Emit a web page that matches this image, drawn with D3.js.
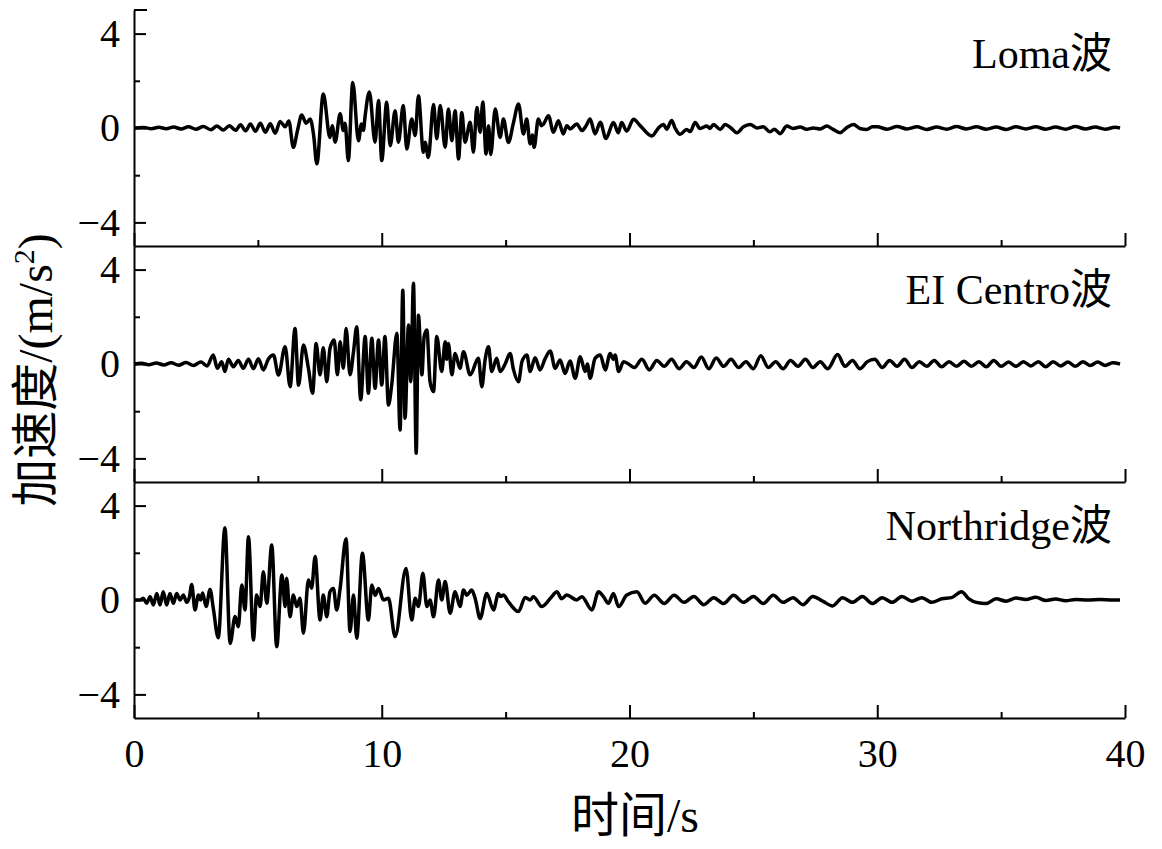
<!DOCTYPE html>
<html>
<head>
<meta charset="utf-8">
<script src="https://cdn.jsdelivr.net/npm/d3@7"></script>
<style>
  body { margin: 0; background: #fff; }
  svg text { font-family: "Liberation Serif", "Times New Roman", "Noto Sans CJK SC", serif; fill: #000; }
</style>
</head>
<body>
<div id="chart"></div>
<script>
// Tick values
const xMajorTicks = [0, 10, 20, 30, 40];
const xMinorTicks = [5, 15, 25, 35];
const yMajorTicks = [-4, 0, 4];
const yMinorTicks = [-2, 2];

// Panel names
const waveNames = ["Loma波", "EI Centro波", "Northridge波"];

// Loma wave: [time (s), acceleration (m/s2)]
const lomaWave = [
  [0,0],[0.4,0.02],[0.7,-0.03],[1.0,0.03],[1.3,-0.03],[1.6,0.04],[1.9,-0.04],[2.2,0.05],[2.5,-0.05],
  [2.8,0.06],[3.1,-0.07],[3.35,0.08],[3.6,-0.09],[3.85,0.1],[4.1,-0.1],[4.3,0.14],[4.5,-0.12],[4.7,0.17],
  [4.9,-0.14],[5.1,0.2],[5.3,-0.18],[5.5,0.18],[5.7,-0.22],[5.9,0.28],[6.1,0.05],[6.25,0.3],[6.43,-0.82],
  [6.6,-0.1],[6.77,0.55],[6.95,0.2],[7.11,0.38],[7.25,-0.3],[7.38,-1.52],[7.64,1.44],[7.91,-0.4],[8.0,0.1],
  [8.12,-0.6],[8.32,0.6],[8.45,-0.11],[8.52,0.2],[8.65,-1.38],[8.83,1.93],[9.06,-0.54],[9.18,0.17],[9.26,-0.1],
  [9.33,0.52],[9.5,1.53],[9.73,-0.6],[9.87,1.16],[10.0,-1.38],[10.2,1.09],[10.34,-0.75],[10.54,0.73],[10.67,-0.6],
  [10.87,0.95],[11.01,-0.89],[11.21,0.38],[11.35,-0.32],[11.48,1.37],[11.68,-1.03],[11.75,-0.6],[11.88,-1.25],
  [12.09,1.0],[12.22,-0.46],[12.36,0.95],[12.56,-0.82],[12.69,0.8],[12.83,-0.54],[12.96,0.73],[13.1,-1.31],
  [13.23,0.66],[13.36,-0.6],[13.57,0.24],[13.7,-1.03],[13.84,0.87],[13.97,-0.18],[14.08,1.1],[14.21,-1.1],
  [14.31,0.1],[14.4,-1.12],[14.58,0.8],[14.78,-0.4],[14.91,0.38],[15.11,-0.61],[15.32,0.24],[15.52,1.02],
  [15.72,-0.25],[15.85,0.38],[15.99,-0.68],[16.08,-0.3],[16.15,-0.82],[16.32,0.38],[16.45,0.1],[16.53,0.17],
  [16.73,0.52],[16.93,-0.18],[17.13,0.31],[17.33,-0.25],[17.47,0.1],[17.6,-0.04],[17.87,0.17],[18.08,-0.11],
  [18.25,0.1],[18.41,0.38],[18.61,-0.25],[18.82,0.24],[19.05,-0.45],[19.35,0.23],[19.55,-0.2],[19.68,0.23],
  [19.89,-0.13],[20.16,0.37],[20.43,0.1],[20.9,-0.34],[21.17,0.0],[21.37,0.15],[21.5,-0.05],[21.7,0.32],
  [21.84,0.0],[22.04,-0.27],[22.31,-0.06],[22.45,-0.15],[22.65,0.23],[22.85,-0.02],[23.12,0.08],[23.25,-0.02],
  [23.39,0.15],[23.66,-0.06],[23.86,0.15],[24.1,0.0],[24.33,-0.2],[24.6,0.05],[24.87,0.15],[25.14,0.0],
  [25.4,0.05],[25.67,-0.16],[25.85,-0.05],[26.08,-0.24],[26.35,0.08],[26.6,-0.02],[26.89,0.04],[27.15,-0.05],
  [27.42,0.0],[27.7,-0.04],[27.96,0.08],[28.2,-0.05],[28.5,-0.2],[28.75,0.0],[29.04,0.15],[29.3,-0.02],
  [29.58,-0.06],[29.8,0.05],[30.0,0.05],[30.4,-0.05],[30.8,0.06],[31.2,-0.04],[31.6,0.05],[32.0,-0.06],
  [32.4,0.04],[32.8,-0.05],[33.2,0.06],[33.6,-0.04],[34.0,0.05],[34.4,-0.05],[34.8,0.04],[35.2,-0.06],
  [35.6,0.05],[36.0,-0.04],[36.4,0.05],[36.8,-0.05],[37.2,0.04],[37.6,-0.05],[38.0,0.06],[38.4,-0.04],
  [38.8,0.04],[39.2,-0.05],[39.6,0.03],[39.8,0]
];

// EI Centro wave
const centroWave = [
  [0,0],[0.3,0.03],[0.6,-0.03],[0.9,0.04],[1.2,-0.04],[1.5,0.05],[1.8,-0.05],[2.1,0.06],[2.4,-0.06],
  [2.7,0.08],[2.95,-0.08],[3.2,0.38],[3.36,-0.18],[3.54,0.1],[3.67,-0.32],[3.81,0.2],[4.01,-0.12],[4.21,0.15],
  [4.41,-0.18],[4.62,0.2],[4.82,-0.2],[5.02,0.22],[5.22,-0.25],[5.42,0.2],[5.63,0.38],[5.83,-0.47],[6.1,0.73],
  [6.3,-0.96],[6.5,1.5],[6.64,-0.9],[6.84,0.8],[7.04,-0.18],[7.21,-1.24],[7.35,0.87],[7.51,-0.46],[7.64,0.69],
  [7.78,-0.75],[7.91,0.66],[8.08,1.02],[8.21,-0.46],[8.32,0.94],[8.45,-0.18],[8.56,1.5],[8.72,-0.46],[8.86,0.52],
  [8.99,1.58],[9.15,-1.52],[9.33,1.16],[9.46,-1.24],[9.6,1.09],[9.73,-1.03],[9.87,1.02],[10.0,-0.89],[10.13,1.16],
  [10.27,-1.74],[10.4,-0.9],[10.61,1.3],[10.74,-2.8],[10.85,3.13],[10.94,-2.3],[11.08,1.65],[11.17,-0.75],
  [11.28,3.42],[11.39,-3.78],[11.48,2.07],[11.62,-0.46],[11.71,1.16],[11.82,1.44],[11.95,-0.75],[12.09,-1.17],
  [12.22,1.16],[12.42,-0.32],[12.56,0.94],[12.62,0.2],[12.69,0.87],[12.83,-0.46],[12.96,0.45],[13.16,-0.18],
  [13.3,0.52],[13.57,-0.46],[13.9,0.24],[14.04,-0.96],[14.17,0.17],[14.31,0.73],[14.44,-0.32],[14.64,0.24],
  [14.78,-0.32],[14.98,0.0],[15.18,0.45],[15.32,-0.25],[15.52,-0.75],[15.66,0.1],[15.86,0.38],[15.99,-0.32],
  [16.19,0.27],[16.39,-0.25],[16.6,0.24],[16.8,0.55],[17.0,-0.18],[17.2,0.17],[17.4,-0.4],[17.6,0.13],
  [17.81,-0.6],[18.01,0.31],[18.21,-0.32],[18.3,0.0],[18.41,-0.6],[18.61,0.24],[18.82,0.38],[19.02,-0.25],
  [19.22,0.45],[19.35,0.2],[19.42,0.38],[19.56,-0.32],[19.76,0.1],[19.96,0.0],
  [20.2,-0.15],[20.5,0.2],[20.8,-0.25],[21.1,0.15],[21.4,-0.1],[21.7,0.2],[22.0,-0.2],[22.3,0.1],[22.6,-0.15],
  [22.9,0.3],[23.2,-0.2],[23.5,0.25],[23.8,-0.1],[24.1,0.2],[24.4,-0.15],[24.7,0.1],[25.0,-0.2],[25.3,0.35],
  [25.6,-0.15],[25.9,0.1],[26.2,-0.2],[26.5,0.15],[26.8,-0.1],[27.1,0.2],[27.4,-0.15],[27.7,0.1],[28.0,-0.2],
  [28.4,0.4],[28.7,-0.1],[29.0,0.15],[29.3,-0.2],[29.6,0.1],[29.9,0.2],[30.2,-0.15],[30.5,0.15],[30.8,-0.1],
  [31.1,0.2],[31.4,-0.15],[31.7,0.1],[32.0,-0.1],[32.3,0.15],[32.6,-0.12],[32.9,0.1],[33.2,-0.1],[33.5,0.12],
  [33.8,-0.1],[34.1,0.1],[34.4,-0.12],[34.7,0.15],[35.0,-0.1],[35.3,0.08],[35.6,-0.1],[35.9,0.1],[36.2,-0.08],
  [36.5,0.1],[36.8,-0.12],[37.1,0.1],[37.4,-0.08],[37.7,0.08],[38.0,-0.1],[38.3,0.1],[38.6,-0.06],[38.9,0.08],
  [39.2,-0.06],[39.5,0.05],[39.8,0]
];

// Northridge wave
const northWave = [
  [0,0],[0.24,0],[0.38,0.07],[0.51,-0.14],[0.65,0.14],[0.78,-0.21],[0.92,0.28],[1.05,-0.21],[1.18,0.35],
  [1.32,-0.21],[1.45,0.28],[1.59,-0.14],[1.72,0.28],[1.86,0.0],[1.99,0.21],[2.13,-0.1],[2.23,0.1],[2.33,0.66],
  [2.46,-0.42],[2.6,0.21],[2.69,0.0],[2.77,0.3],[2.91,-0.28],[3.07,0.45],[3.2,-0.35],[3.4,-1.6],[3.67,3.06],
  [3.88,-1.84],[4.08,-0.7],[4.21,-1.13],[4.35,0.64],[4.48,-0.42],[4.62,2.68],[4.82,-1.7],[4.95,0.21],[5.09,-0.28],
  [5.22,1.2],[5.36,-0.14],[5.56,2.33],[5.76,-1.98],[5.97,1.06],[6.1,-0.28],[6.16,0.92],[6.3,-0.71],[6.43,0.21],
  [6.57,-0.28],[6.7,0.07],[6.84,-1.41],[7.04,0.85],[7.17,0.5],[7.31,1.84],[7.51,-0.85],[7.64,0.21],[7.78,-0.71],
  [7.91,0.35],[8.05,0.49],[8.18,-0.42],[8.32,0.49],[8.56,2.6],[8.72,-1.34],[8.86,0.21],[8.99,-1.62],[9.22,1.98],
  [9.46,-0.85],[9.6,0.64],[9.73,0.2],[9.87,0.49],[10.07,0.0],[10.27,0.07],[10.54,-1.55],[10.98,1.34],[11.21,-0.85],
  [11.35,0.07],[11.48,-0.28],[11.66,1.13],[11.82,-0.28],[11.95,0.0],[12.09,-0.71],[12.29,0.85],[12.42,0.0],
  [12.56,0.78],[12.76,-0.56],[12.96,0.35],[13.16,-0.28],[13.3,0.42],[13.43,0.2],[13.63,0.42],[13.77,0.07],
  [13.97,-0.78],[14.24,0.28],[14.51,-0.42],[14.71,0.28],[14.8,0.15],[14.91,0.21],[15.11,-0.07],[15.52,-0.49],
  [15.79,0.11],[15.99,0.0],[16.12,0.14],[16.46,-0.28],[16.86,0.14],[17.07,0.35],[17.26,0.05],[17.47,0.21],
  [17.87,0.0],[18.08,0.14],[18.48,-0.42],[18.75,0.35],[18.95,0.14],[19.15,-0.14],[19.35,0.28],[19.56,-0.28],
  [19.89,0.21],[20.3,0.35],[20.63,-0.14],[21.0,0.2],[21.4,-0.15],[21.8,0.2],[22.2,-0.1],[22.6,0.15],[23.0,-0.2],
  [23.4,0.1],[23.8,-0.15],[24.2,0.2],[24.6,-0.1],[25.0,0.15],[25.4,-0.15],[25.8,0.2],[26.2,-0.1],[26.6,0.1],
  [27.0,-0.2],[27.4,0.15],[27.8,-0.05],[28.2,-0.25],[28.6,0.1],[29.0,-0.1],[29.4,0.15],[29.8,-0.15],[30.2,0.1],
  [30.6,-0.1],[31.0,0.15],[31.4,-0.05],[31.8,0.1],[32.2,-0.1],[32.6,0.05],[33.0,0.1],[33.4,0.35],[33.7,0.05],
  [34.0,-0.1],[34.4,-0.15],[34.8,0.05],[35.2,-0.05],[35.6,0.08],[36.0,0.02],[36.4,0.12],[36.8,-0.02],[37.2,0.04],
  [37.6,-0.03],[38.0,0.02],[38.5,0.0],[39.0,0.02],[39.5,0.0],[39.8,0]
];

const waves = [lomaWave, centroWave, northWave];

// Layout
const width = 1162, height = 849;
const margin = { top: 10, left: 134, right: 37 };
const panelHeight = 236;
const fontFamily = '"Liberation Serif", "Times New Roman", "Noto Sans CJK SC", serif';

const svg = d3.select("#chart")
  .append("svg")
  .attr("width", width)
  .attr("height", height);

// Shared time scale
const x = d3.scaleLinear().domain([0, 40]).range([margin.left, width - margin.right]);

const minusFormat = d => d < 0 ? "\u2212" + Math.abs(d) : String(d);

waves.forEach((wave, i) => {
  const top = margin.top + i * panelHeight;
  const bottom = top + panelHeight;
  const y = d3.scaleLinear().domain([-5, 5]).range([bottom, top]);
  const panel = svg.append("g").attr("class", "panel");

  // y axis, major ticks with labels
  panel.append("g")
    .attr("transform", `translate(${margin.left},0)`)
    .call(d3.axisLeft(y).tickValues(yMajorTicks).tickSize(-12).tickSizeOuter(0)
      .tickPadding(14).tickFormat(minusFormat))
    .call(g => g.select(".domain").attr("stroke-width", 2))
    .call(g => g.selectAll(".tick line").attr("stroke-width", 2))
    .call(g => g.selectAll("text").attr("font-size", 40).attr("font-family", fontFamily));

  // y axis, minor ticks
  panel.append("g")
    .attr("transform", `translate(${margin.left},0)`)
    .call(d3.axisLeft(y).tickValues(yMinorTicks).tickSize(-6).tickSizeOuter(0).tickFormat(""))
    .call(g => g.select(".domain").remove())
    .call(g => g.selectAll(".tick line").attr("stroke-width", 2));

  // top stub of the first panel
  if (i === 0) {
    panel.append("line")
      .attr("x1", margin.left).attr("x2", margin.left + 13)
      .attr("y1", y(5)).attr("y2", y(5))
      .attr("stroke", "#000").attr("stroke-width", 2);
  }

  // x axis at the panel bottom, ticks point inward
  panel.append("g")
    .attr("transform", `translate(0,${bottom})`)
    .call(d3.axisBottom(x).tickValues(xMajorTicks).tickSize(-13).tickSizeOuter(0)
      .tickPadding(21).tickFormat(i === waves.length - 1 ? d3.format("d") : ""))
    .call(g => g.select(".domain").attr("stroke-width", 2))
    .call(g => g.selectAll(".tick line").attr("stroke-width", 2))
    .call(g => g.selectAll("text").attr("font-size", 40).attr("font-family", fontFamily));

  panel.append("g")
    .attr("transform", `translate(0,${bottom})`)
    .call(d3.axisBottom(x).tickValues(xMinorTicks).tickSize(-6).tickSizeOuter(0).tickFormat(""))
    .call(g => g.select(".domain").remove())
    .call(g => g.selectAll(".tick line").attr("stroke-width", 2));

  // the wave itself
  const line = d3.line()
    .x(d => x(d[0]))
    .y(d => y(d[1]))
    .curve(d3.curveMonotoneX);

  panel.append("path")
    .datum(wave)
    .attr("fill", "none")
    .attr("stroke", "#000")
    .attr("stroke-width", 3.5)
    .attr("stroke-linejoin", "round")
    .attr("d", line);

  // panel name
  panel.append("text")
    .attr("x", 1112)
    .attr("y", top + 58)
    .attr("text-anchor", "end")
    .attr("font-size", 42)
    .text(waveNames[i]);
});

// x axis title
svg.append("text")
  .attr("x", 635)
  .attr("y", 832)
  .attr("text-anchor", "middle")
  .attr("font-size", 48)
  .text("时间/s");

// y axis title
const yTitle = svg.append("text")
  .attr("transform", "translate(52,370) rotate(-90)")
  .attr("text-anchor", "middle")
  .attr("font-size", 48);
yTitle.append("tspan").text("加速度/(m/s");
yTitle.append("tspan").attr("font-size", 30).attr("dy", -18).text("2");
yTitle.append("tspan").attr("font-size", 48).attr("dy", 18).text(")");
</script>
</body>
</html>
